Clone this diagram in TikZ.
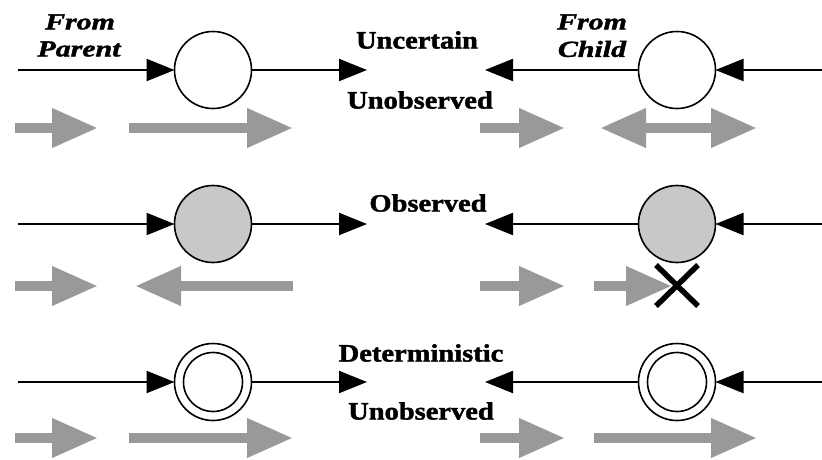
\documentclass[tikz,border=0pt]{standalone}
\usepackage{fontspec}
\setmainfont{Liberation Serif}[BoldFeatures={FakeBold=1.5},BoldItalicFeatures={FakeBold=1.5}]
\usetikzlibrary{arrows.meta}
\definecolor{arrowgray}{RGB}{153,153,153}
\definecolor{obsfill}{RGB}{200,200,200}
\newcommand{\widetext}[2]{\scalebox{#1}[1]{#2}}
\begin{document}
\begin{tikzpicture}[x=1pt,y=-1pt,
  varnode/.style={circle,draw=black,line width=1.6pt,minimum size=77pt,inner sep=0pt,outer sep=0pt},
  obsnode/.style={varnode,fill=obsfill},
  msg/.style={line width=2.2pt,-{Triangle[length=28pt,width=22pt]}},
  flow/.style={line width=10pt,draw=arrowgray,-{Triangle[length=46pt,width=37pt]}},
  flowback/.style={line width=10pt,draw=arrowgray,{Triangle[length=46pt,width=37pt]}-},
  flowboth/.style={line width=10pt,draw=arrowgray,{Triangle[length=46pt,width=37pt]}-{Triangle[length=46pt,width=37pt]}},
  label/.style={inner sep=0pt,font=\fontsize{25}{30}\selectfont\bfseries},
  ilabel/.style={inner sep=0pt,font=\fontsize{23}{28}\selectfont\bfseries\itshape},
  cross/.style={line width=5.5pt,draw=black}
]
\useasboundingbox (0,0) rectangle (822,459);

% ---------- texts ----------
\node[ilabel] (fp1) at (80,22) {\widetext{1.3}{From}};
\node[ilabel] (fp2) at (79,49) {\widetext{1.3}{Parent}};
\node[ilabel] (fc1) at (592,22) {\widetext{1.3}{From}};
\node[ilabel] (fc2) at (592,49) {\widetext{1.3}{Child}};
\node[label] (t1a) at (417,40) {\widetext{1.14}{Uncertain}};
\node[label] (t1b) at (420,100) {\widetext{1.14}{Unobserved}};
\node[label] (t2a) at (428,203) {\widetext{1.14}{Observed}};
\node[label] (t3a) at (421,353) {\widetext{1.14}{Deterministic}};
\node[label] (t3b) at (421,411) {\widetext{1.14}{Unobserved}};

% ---------- row 1 ----------
\node[varnode] (pl1) at (213,70) {};
\node[varnode] (cl1) at (677,70) {};
\coordinate (pa1) at (18,70);
\coordinate (pb1) at (367,70);
\coordinate (ca1) at (485,70);
\coordinate (cb1) at (822,70);
\draw[msg] (pa1) -- (pl1);
\draw[msg] (pl1) -- (pb1);
\draw[msg] (cl1) -- (ca1);
\draw[msg] (cb1) -- (cl1);

% ---------- row 2 ----------
\node[obsnode] (pl2) at (213,224) {};
\node[obsnode] (cl2) at (677,224) {};
\coordinate (pa2) at (18,224);
\coordinate (pb2) at (367,224);
\coordinate (ca2) at (485,224);
\coordinate (cb2) at (822,224);
\draw[msg] (pa2) -- (pl2);
\draw[msg] (pl2) -- (pb2);
\draw[msg] (cl2) -- (ca2);
\draw[msg] (cb2) -- (cl2);

% ---------- row 3 ----------
\node[varnode] (pl3) at (213,382) {};
\node[varnode] (cl3) at (677,382) {};
\draw[line width=1.6pt] (pl3.center) circle (29.5pt);
\draw[line width=1.6pt] (cl3.center) circle (29.5pt);
\coordinate (pa3) at (18,382);
\coordinate (pb3) at (367,382);
\coordinate (ca3) at (485,382);
\coordinate (cb3) at (822,382);
\draw[msg] (pa3) -- (pl3);
\draw[msg] (pl3) -- (pb3);
\draw[msg] (cl3) -- (ca3);
\draw[msg] (cb3) -- (cl3);

% ---------- gray flow arrows ----------
\coordinate (g1a) at (15,128);  \coordinate (g1b) at (98,128);
\coordinate (g1c) at (129,128); \coordinate (g1d) at (293,128);
\coordinate (g1e) at (480,128); \coordinate (g1f) at (565,128);
\coordinate (g1g) at (600,128); \coordinate (g1h) at (757,128);
\draw[flow] (g1a) -- (g1b);
\draw[flow] (g1c) -- (g1d);
\draw[flow] (g1e) -- (g1f);
\draw[flowboth] (g1g) -- (g1h);

\coordinate (g2a) at (15,286);  \coordinate (g2b) at (98,286);
\coordinate (g2c) at (135,286); \coordinate (g2d) at (293,286);
\coordinate (g2e) at (480,286); \coordinate (g2f) at (565,286);
\coordinate (g2g) at (594,286); \coordinate (g2h) at (672,286);
\draw[flow] (g2a) -- (g2b);
\draw[flowback] (g2c) -- (g2d);
\draw[flow] (g2e) -- (g2f);
\draw[flow] (g2g) -- (g2h);
\coordinate (x1) at (656,265); \coordinate (x2) at (698,306);
\coordinate (x3) at (656,306); \coordinate (x4) at (698,265);
\draw[cross] (x1) -- (x2);
\draw[cross] (x3) -- (x4);

\coordinate (g3a) at (15,438);  \coordinate (g3b) at (98,438);
\coordinate (g3c) at (129,438); \coordinate (g3d) at (293,438);
\coordinate (g3e) at (480,438); \coordinate (g3f) at (565,438);
\coordinate (g3g) at (594,438); \coordinate (g3h) at (757,438);
\draw[flow] (g3a) -- (g3b);
\draw[flow] (g3c) -- (g3d);
\draw[flow] (g3e) -- (g3f);
\draw[flow] (g3g) -- (g3h);
\end{tikzpicture}
\end{document}
